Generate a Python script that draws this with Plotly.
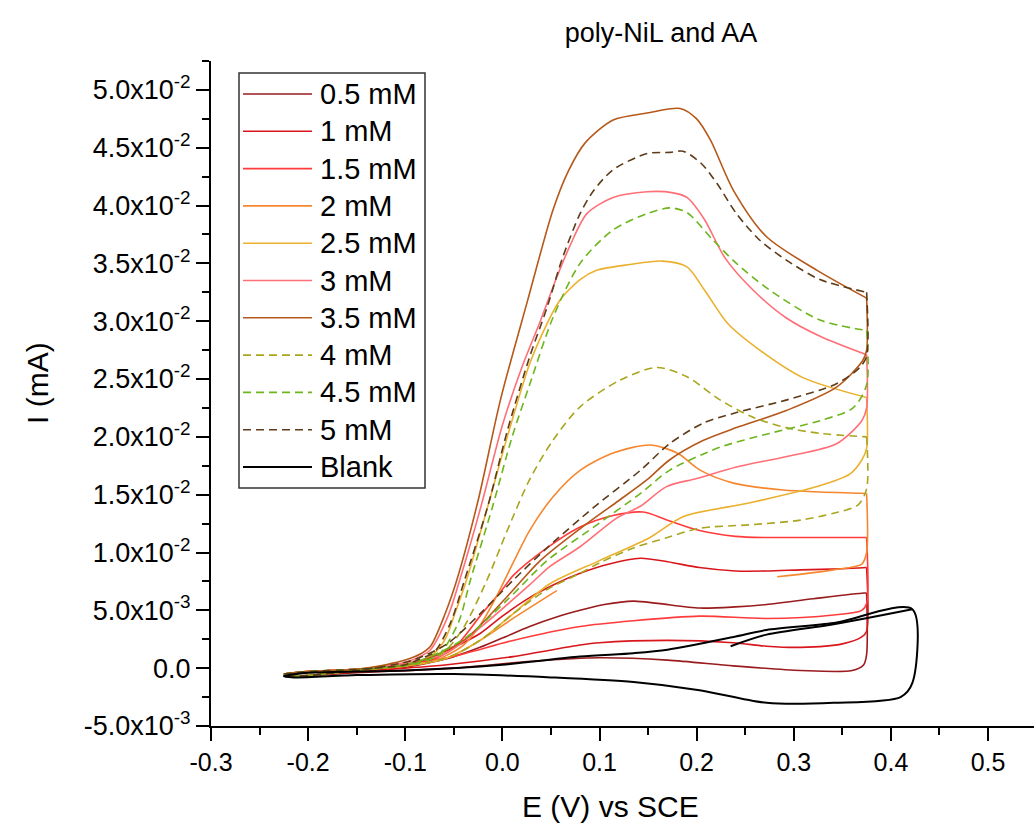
import plotly.graph_objects as go

# ---------------- data (E in V vs SCE, I in mA); each list = forward branch then reverse branch
E_05 = [-0.225, -0.2, -0.15, -0.1, -0.074, -0.05, -0.023, 0.0, 0.028, 0.055, 0.08, 0.105, 0.135, 0.16, 0.203, 0.24, 0.272, 0.32, 0.372, 0.375,
        0.375, 0.372, 0.36, 0.307, 0.238, 0.17, 0.1, 0.03, -0.05, -0.15, -0.215, -0.225]
I_05 = [-0.0005, -0.0003, -0.0001, 0.0001, 0.0005, 0.0010, 0.0018, 0.0026, 0.0036, 0.0044, 0.0050, 0.0055, 0.0058, 0.0056, 0.0052, 0.0053, 0.0055, 0.0060, 0.0065, 0.0065,
        0.0012, 0.0003, -0.0002, -0.0002, 0.0002, 0.0007, 0.0009, 0.0006, 0.0000, -0.0004, -0.0007, -0.0006]

E_1 = [-0.225, -0.2, -0.15, -0.1, -0.074, -0.05, -0.023, 0.0, 0.028, 0.055, 0.08, 0.11, 0.142, 0.17, 0.203, 0.24, 0.272, 0.307, 0.35, 0.375,
       0.375, 0.370, 0.35, 0.307, 0.272, 0.238, 0.17, 0.1, 0.08, 0.011, -0.057, -0.15, -0.215, -0.225]
I_1 = [-0.0005, -0.0003, -0.0001, 0.0001, 0.0009, 0.0018, 0.0030, 0.0045, 0.0061, 0.0073, 0.0082, 0.0090, 0.0095, 0.0092, 0.0087, 0.0084, 0.0084, 0.0085, 0.0086, 0.0087,
       0.0032, 0.0027, 0.0021, 0.0018, 0.0019, 0.0022, 0.0024, 0.0022, 0.0020, 0.0010, 0.0003, -0.0003, -0.0007, -0.0006]

E_15 = [-0.225, -0.2, -0.15, -0.1, -0.07, -0.047, -0.023, 0.0, 0.011, 0.046, 0.080, 0.114, 0.145, 0.17, 0.203, 0.24, 0.272, 0.32, 0.375,
        0.375, 0.370, 0.341, 0.272, 0.203, 0.135, 0.08, 0.011, -0.057, -0.15, -0.215, -0.225]
I_15 = [-0.0005, -0.0003, -0.0001, 0.0002, 0.0008, 0.0020, 0.0045, 0.0068, 0.0080, 0.0104, 0.0122, 0.0132, 0.0135, 0.0128, 0.0119, 0.0114, 0.0113, 0.0113, 0.0113,
        0.0056, 0.0050, 0.0046, 0.0043, 0.0045, 0.0041, 0.0036, 0.0024, 0.0009, -0.0002, -0.0007, -0.0006]

E_2 = [-0.225, -0.2, -0.15, -0.1, -0.075, -0.06, -0.04, -0.023, -0.006, 0.011, 0.028, 0.052, 0.080, 0.114, 0.152, 0.180, 0.204, 0.238, 0.289, 0.375,
       0.375, 0.370, 0.341, 0.283, None, 0.056, 0.011, -0.023, -0.06, -0.15, -0.215, -0.225]
I_2 = [-0.0005, -0.0003, -0.0001, 0.0002, 0.0005, 0.0010, 0.0020, 0.0037, 0.0062, 0.0091, 0.0119, 0.0148, 0.0171, 0.0186, 0.0193, 0.0186, 0.0171, 0.0160, 0.0154, 0.0151,
       0.0100, 0.0090, 0.0085, 0.0079, None, 0.0067, 0.0043, 0.0024, 0.0008, -0.0002, -0.0007, -0.0006]

E_25 = [-0.225, -0.2, -0.15, -0.1, -0.085, -0.07, -0.059, -0.049, -0.037, -0.015, 0.005, 0.028, 0.046, 0.059, 0.080, 0.097, 0.131, 0.165, 0.190, 0.208, 0.232, 0.265, 0.310, 0.375,
        0.375, 0.370, 0.358, 0.324, 0.255, 0.186, 0.152, 0.1, 0.049, 0.011, -0.023, -0.06, -0.15, -0.215, -0.225]
I_25 = [-0.0005, -0.0003, -0.0001, 0.0002, 0.0006, 0.0013, 0.0025, 0.0047, 0.0076, 0.0140, 0.0200, 0.0263, 0.0298, 0.0318, 0.0336, 0.0344, 0.0349, 0.0352, 0.0347, 0.0327, 0.0298, 0.0275, 0.0251, 0.0234,
        0.0190, 0.0180, 0.0168, 0.0157, 0.0143, 0.0131, 0.0113, 0.0093, 0.0073, 0.0047, 0.0024, 0.0008, -0.0002, -0.0007, -0.0006]

E_3 = [-0.225, -0.2, -0.15, -0.12, -0.1, -0.085, -0.074, -0.056, -0.044, -0.022, 0.0, 0.02, 0.039, 0.056, 0.07, 0.087, 0.114, 0.149, 0.176, 0.190, 0.208, 0.229, 0.258, 0.292, 0.327, 0.375,
       0.375, 0.370, 0.344, 0.293, 0.241, 0.200, 0.169, 0.142, 0.118, 0.080, 0.049, 0.028, -0.023, -0.06, -0.15, -0.215, -0.225]
I_3 = [-0.0005, -0.0003, -0.0001, 0.0002, 0.0005, 0.0010, 0.0016, 0.0045, 0.0076, 0.0140, 0.0210, 0.0260, 0.0300, 0.0338, 0.0366, 0.0393, 0.0407, 0.0412, 0.0411, 0.0407, 0.0388, 0.0355, 0.0327, 0.0303, 0.0287, 0.0271,
       0.0225, 0.0214, 0.0194, 0.0183, 0.0174, 0.0164, 0.0157, 0.0140, 0.0130, 0.0105, 0.0088, 0.0072, 0.0035, 0.0012, -0.0002, -0.0007, -0.0006]

E_35 = [-0.225, -0.2, -0.15, -0.12, -0.1, -0.085, -0.074, -0.059, -0.047, -0.025, -0.002, 0.026, 0.052, 0.068, 0.085, 0.114, 0.149, 0.183, 0.200, 0.214, 0.238, 0.272, 0.324, 0.375,
        0.375, 0.371, 0.344, 0.293, 0.241, 0.207, 0.172, 0.149, 0.120, 0.087, 0.039, 0.005, -0.040, -0.092, -0.15, -0.215, -0.225]
I_35 = [-0.0005, -0.0003, -0.0001, 0.0003, 0.0007, 0.0012, 0.0019, 0.0047, 0.0076, 0.0145, 0.0232, 0.0318, 0.0396, 0.0430, 0.0454, 0.0474, 0.0480, 0.0484, 0.0475, 0.0457, 0.0413, 0.0373, 0.0344, 0.0320,
        0.0275, 0.0266, 0.0243, 0.0223, 0.0208, 0.0197, 0.0180, 0.0163, 0.0145, 0.0125, 0.0093, 0.0062, 0.0024, 0.0004, -0.0002, -0.0007, -0.0006]

E_4 = [-0.225, -0.2, -0.15, -0.1, -0.08, -0.06, -0.04, -0.016, 0.005, 0.028, 0.052, 0.080, 0.121, 0.159, 0.190, 0.224, 0.258, 0.292, 0.327, 0.375,
       0.375, 0.366, 0.341, 0.307, 0.255, 0.203, 0.17, 0.135, 0.1, 0.08, 0.046, 0.011, -0.023, -0.06, -0.15, -0.215, -0.225]
I_4 = [-0.0005, -0.0003, -0.0001, 0.0002, 0.0006, 0.0014, 0.0035, 0.0076, 0.0119, 0.0163, 0.0197, 0.0226, 0.0249, 0.0260, 0.0252, 0.0232, 0.0217, 0.0208, 0.0203, 0.0200,
       0.0155, 0.0141, 0.0134, 0.0128, 0.0124, 0.0121, 0.0113, 0.0104, 0.0091, 0.0082, 0.0068, 0.0047, 0.0024, 0.0008, -0.0002, -0.0007, -0.0006]

E_45 = [-0.225, -0.2, -0.15, -0.1, -0.085, -0.065, -0.045, -0.033, -0.01, 0.01, 0.028, 0.052, 0.080, 0.114, 0.149, 0.172, 0.190, 0.217, 0.241, 0.275, 0.327, 0.375,
        0.375, 0.361, 0.327, 0.275, 0.224, 0.172, 0.142, 0.094, 0.046, 0.005, -0.04, -0.09, -0.15, -0.215, -0.225]
I_45 = [-0.0005, -0.0003, -0.0001, 0.0002, 0.0005, 0.0012, 0.0040, 0.0076, 0.0140, 0.0200, 0.0245, 0.0303, 0.0350, 0.0379, 0.0393, 0.0398, 0.0394, 0.0370, 0.0350, 0.0327, 0.0301, 0.0292,
        0.0245, 0.0225, 0.0214, 0.0203, 0.0191, 0.0171, 0.0151, 0.0122, 0.0093, 0.0059, 0.0025, 0.0005, -0.0002, -0.0007, -0.0006]

E_5 = [-0.225, -0.2, -0.15, -0.1, -0.085, -0.07, -0.053, -0.039, -0.015, 0.005, 0.028, 0.046, 0.062, 0.080, 0.094, 0.114, 0.149, 0.173, 0.186, 0.204, 0.221, 0.241, 0.265, 0.292, 0.327, 0.375,
       0.375, 0.368, 0.344, 0.293, 0.241, 0.207, 0.172, 0.142, 0.094, 0.046, 0.011, -0.023, -0.057, -0.092, -0.15, -0.215, -0.225]
I_5 = [-0.0005, -0.0003, -0.0001, 0.0003, 0.0008, 0.0014, 0.0040, 0.0076, 0.0140, 0.0205, 0.0269, 0.0312, 0.0355, 0.0393, 0.0413, 0.0431, 0.0445, 0.0446, 0.0447, 0.0437, 0.0419, 0.0393, 0.0370, 0.0353, 0.0336, 0.0325,
       0.0270, 0.0260, 0.0246, 0.0232, 0.0221, 0.0212, 0.0194, 0.0171, 0.0139, 0.0104, 0.0076, 0.0047, 0.0021, 0.0007, -0.0002, -0.0007, -0.0006]

E_blank = [0.235, 0.272, 0.341, 0.422, 0.422, 0.41, 0.341, 0.272, 0.203, 0.135, 0.05, -0.05, -0.15, -0.215, -0.225,
           -0.2, -0.1, 0.0, 0.08, 0.135, 0.17, 0.238, 0.272, 0.341, 0.422]
I_blank = [0.0019, 0.0029, 0.0038, 0.0051, -0.0013, -0.0025, -0.0030, -0.0030, -0.0019, -0.0012, -0.0008, -0.0005, -0.0006, -0.0008, -0.0007,
           -0.0004, -0.0002, 0.0003, 0.0010, 0.0013, 0.0016, 0.0027, 0.0033, 0.0039, 0.0051]

labels = ["0.5 mM", "1 mM", "1.5 mM", "2 mM", "2.5 mM", "3 mM", "3.5 mM", "4 mM", "4.5 mM", "5 mM", "Blank"]
E_all = [E_05, E_1, E_15, E_2, E_25, E_3, E_35, E_4, E_45, E_5, E_blank]
I_all = [I_05, I_1, I_15, I_2, I_25, I_3, I_35, I_4, I_45, I_5, I_blank]
colors = ["#9A1B1E", "#D9161C", "#FF3B3B", "#F7872E", "#EBB12E", "#FF6F77", "#B5581A", "#A9A51E", "#6DB51C", "#5E3B18", "#000000"]
dashes = ["solid"] * 7 + ["8px,5px"] * 3 + ["solid"]
widths = [1.6] * 10 + [2.0]

y_tickvals = [-0.005, 0.0, 0.005, 0.01, 0.015, 0.02, 0.025, 0.03, 0.035, 0.04, 0.045, 0.05]
y_ticktext = ["-5.0x10<sup>-3</sup>", "0.0", "5.0x10<sup>-3</sup>", "1.0x10<sup>-2</sup>", "1.5x10<sup>-2</sup>",
              "2.0x10<sup>-2</sup>", "2.5x10<sup>-2</sup>", "3.0x10<sup>-2</sup>", "3.5x10<sup>-2</sup>",
              "4.0x10<sup>-2</sup>", "4.5x10<sup>-2</sup>", "5.0x10<sup>-2</sup>"]
y_minor = [-0.0025, 0.0025, 0.0075, 0.0125, 0.0175, 0.0225, 0.0275, 0.0325, 0.0375, 0.0425, 0.0475, 0.0525]
x_tickvals = [-0.3, -0.2, -0.1, 0.0, 0.1, 0.2, 0.3, 0.4, 0.5]
x_ticktext = ["-0.3", "-0.2", "-0.1", "0.0", "0.1", "0.2", "0.3", "0.4", "0.5"]
x_minor = [-0.25, -0.15, -0.05, 0.05, 0.15, 0.25, 0.35, 0.45]

FONT = "Liberation Sans, Arial, sans-serif"
W, H = 1034, 830
L, R, T, B = 211, 0, 61, 104

fig = go.Figure()
for e, i, lab, c, d, w in zip(E_all, I_all, labels, colors, dashes, widths):
    # split each voltammogram at the switching potential so the smoothed line keeps a sharp vertical turn
    valid = [v for v in e if v is not None]
    k = e.index(max(valid))
    for xs, ys in ((e[:k + 1], i[:k + 1]), (e[k:], i[k:])):
        fig.add_trace(go.Scatter(x=xs, y=ys, mode="lines", name=lab, legendgroup=lab, showlegend=False,
                                 line=dict(color=c, width=w, dash=d, shape="spline", smoothing=0.8),
                                 connectgaps=False))

# custom legend (long line samples like the original)
pw, ph = W - L - R, H - T - B
def px2x(px):
    return (px - L) / pw
def py2y(py):
    return (H - B - py) / ph

shapes = [dict(type="rect", xref="paper", yref="paper", x0=px2x(239), x1=px2x(425), y0=py2y(488), y1=py2y(73),
               line=dict(color="#333333", width=1.5), fillcolor="rgba(255,255,255,0)")]
annotations = []
for k, (lab, c, d, w) in enumerate(zip(labels, colors, dashes, widths)):
    yc = 94 + 37.3 * k
    shapes.append(dict(type="line", xref="paper", yref="paper", x0=px2x(243), x1=px2x(312), y0=py2y(yc), y1=py2y(yc),
                       line=dict(color=c, width=w, dash=d)))
    annotations.append(dict(text=lab, xref="paper", yref="paper", x=px2x(318), y=py2y(yc), xanchor="left",
                            yanchor="middle", showarrow=False, font=dict(family=FONT, size=29, color="black")))

annotations.append(dict(text="E (V) vs SCE", xref="paper", yref="paper", x=px2x(610), y=py2y(806), xanchor="center",
                        yanchor="middle", showarrow=False, font=dict(family=FONT, size=30, color="black")))
annotations.append(dict(text="I (mA)", xref="paper", yref="paper", x=px2x(38), y=py2y(383), xanchor="center",
                        yanchor="middle", showarrow=False, textangle=-90, font=dict(family=FONT, size=30, color="black")))

fig.update_layout(
    width=W, height=H, margin=dict(l=L, r=R, t=T, b=B, pad=0),
    paper_bgcolor="white", plot_bgcolor="white",
    font=dict(family=FONT, size=24, color="black"),
    title=dict(text="poly-NiL and AA", x=661 / W, xref="container", xanchor="center",
               y=1 - 33 / H, yref="container", yanchor="middle", font=dict(family=FONT, size=27, color="black")),
    shapes=shapes, annotations=annotations, showlegend=False,
    xaxis=dict(range=[-0.3, -0.3 + pw / 971.3], showline=True, linecolor="black", linewidth=2, mirror=False,
               showgrid=False, zeroline=False, ticks="outside", ticklen=13, tickwidth=2, tickcolor="black",
               tickmode="array", tickvals=x_tickvals, ticktext=x_ticktext, tickfont=dict(family=FONT, size=25),
               minor=dict(tickmode="array", tickvals=x_minor, ticks="outside", ticklen=7, tickwidth=2,
                          tickcolor="black", showgrid=False)),
    yaxis=dict(range=[-0.005, 0.0525], showline=True, linecolor="black", linewidth=2, mirror=False,
               showgrid=False, zeroline=False, ticks="outside", ticklen=13, tickwidth=2, tickcolor="black",
               tickmode="array", tickvals=y_tickvals, ticktext=y_ticktext, tickfont=dict(family=FONT, size=27),
               minor=dict(tickmode="array", tickvals=y_minor, ticks="outside", ticklen=7, tickwidth=2,
                          tickcolor="black", showgrid=False)),
)

fig.write_html("out.html")
